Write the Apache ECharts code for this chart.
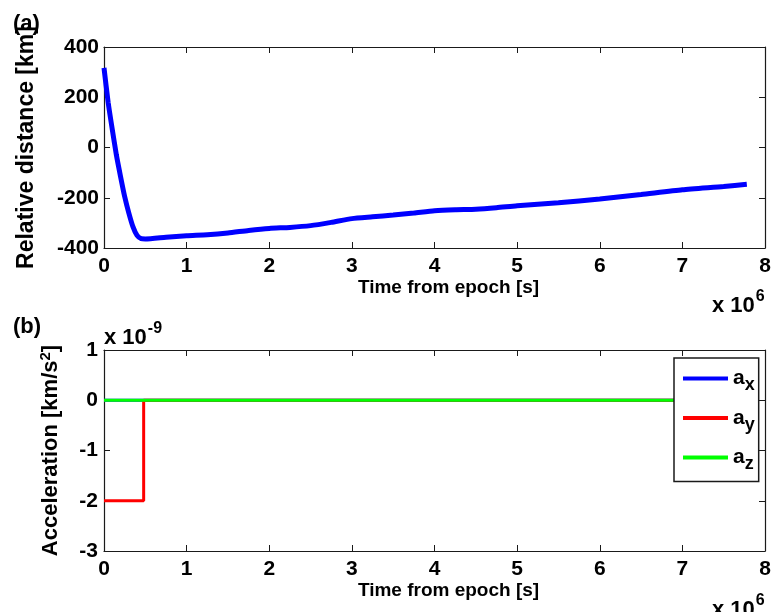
<!DOCTYPE html>
<html>
<head>
<meta charset="utf-8">
<script src="https://cdn.jsdelivr.net/npm/echarts@6/dist/echarts.min.js"></script>
<style>
  html, body { margin: 0; padding: 0; background: #fff; }
  #main { width: 771px; height: 612px; }
</style>
</head>
<body>
<div id="main"></div>
<script>
// time in units of 1e6 s (axis shows "x 10^6")
const timeA = [0, 0.05, 0.1, 0.15, 0.2, 0.25, 0.3, 0.35, 0.4, 0.45, 0.5, 0.75, 1, 1.25, 1.5, 1.75, 2, 2.25, 2.5, 2.75, 3, 3.25, 3.5, 3.75, 4, 4.25, 4.5, 4.75, 5, 5.5, 6, 6.5, 7, 7.5, 7.78]
const distance = [317, 180, 72, -30, -115, -195, -260, -315, -350, -363, -364, -357, -351, -347, -340, -330, -322, -318, -311, -298, -283, -276, -269, -261, -252, -248, -246, -240, -232, -220, -205, -187, -168, -155, -146]

// acceleration in units of 1e-9 km/s^2
const timeB = [0, 0.48, 0.48, 7.78]
const accX = [0, 0, 0, 0]
const accY = [-2, -2, 0, 0]
const accZ = [0, 0, 0, 0]

const font = 'Liberation Sans, Arial, Helvetica, sans-serif'
const ink = '#1a1a1a'

const zip = (xs, ys) => xs.map((x, i) => [x, ys[i]])

const chart = echarts.init(document.getElementById('main'), null, { renderer: 'canvas' })

const tickStyle = { inside: true, length: 6, lineStyle: { color: ink, width: 1 } }
const lineAxis = { show: true, onZero: false, lineStyle: { color: ink, width: 1.2 } }
const labelStyle = { color: '#000', fontFamily: font, fontWeight: 'bold', fontSize: 21 }
const nameStyle = { color: '#000', fontFamily: font, fontWeight: 'bold', fontSize: 19, padding: [0, 0, 0, 28] }

const xAxisFor = (gridIndex) => [
  {
    gridIndex, type: 'value', min: 0, max: 8, interval: 1, position: 'bottom',
    name: 'Time from epoch [s]', nameLocation: 'middle', nameGap: 30, nameTextStyle: nameStyle,
    axisLine: lineAxis, axisTick: tickStyle, splitLine: { show: false },
    axisLabel: Object.assign({ margin: 8, formatter: (v) => String(v) }, labelStyle),
  },
  {
    gridIndex, type: 'value', min: 0, max: 8, interval: 1, position: 'top',
    axisLine: lineAxis, axisTick: tickStyle, axisLabel: { show: false }, splitLine: { show: false },
  },
]

// "x 10^n" exponent labels
const supText = (txt, left, top) => ({
  type: 'text', left, top,
  style: {
    text: txt, fill: '#000',
    rich: {
      b: { font: 'bold 22px ' + font, padding: [10, 0, 0, 0] },
      s: { font: 'bold 16px ' + font, padding: [0, 0, 8, 1] },
    },
  },
})

const option = {
  animation: false,
  backgroundColor: '#fff',
  grid: [
    { left: 104, right: 6, top: 47, height: 201, outerBoundsMode: 'none' },
    { left: 104, right: 6, top: 350, height: 201, outerBoundsMode: 'none' },
  ],
  xAxis: [...xAxisFor(0), ...xAxisFor(1)],
  yAxis: [
    {
      gridIndex: 0, type: 'value', min: -400, max: 400, interval: 200, position: 'left',
      name: 'Relative distance [km]', nameLocation: 'middle', nameGap: 66, nameRotate: 90,
      nameTextStyle: { color: '#000', fontFamily: font, fontWeight: 'bold', fontSize: 23 },
      axisLine: lineAxis, axisTick: tickStyle, splitLine: { show: false },
      axisLabel: Object.assign({ margin: 5 }, labelStyle),
    },
    {
      gridIndex: 0, type: 'value', min: -400, max: 400, interval: 200, position: 'right',
      axisLine: lineAxis, axisTick: tickStyle,
      axisLabel: { show: false }, splitLine: { show: false },
    },
    {
      gridIndex: 1, type: 'value', min: -3, max: 1, interval: 1, position: 'left',
      name: 'Acceleration [km/s{sup|2}]', nameLocation: 'middle', nameGap: 41, nameRotate: 90,
      nameTextStyle: {
        color: '#000', fontFamily: font, fontWeight: 'bold', fontSize: 22,
        rich: { sup: { fontFamily: font, fontWeight: 'bold', fontSize: 15, color: '#000', verticalAlign: 'top', padding: [0, 0, 10, 0] } },
      },
      axisLine: lineAxis, axisTick: tickStyle, splitLine: { show: false },
      axisLabel: Object.assign({ margin: 6 }, labelStyle),
    },
    {
      gridIndex: 1, type: 'value', min: -3, max: 1, interval: 1, position: 'right',
      axisLine: lineAxis, axisTick: tickStyle,
      axisLabel: { show: false }, splitLine: { show: false },
    },
  ],
  legend: {
    data: ['a_x', 'a_y', 'a_z'],
    orient: 'vertical',
    left: 674, top: 358,
    padding: [10, 4, 8, 9],
    itemGap: 13,
    itemWidth: 45,
    itemHeight: 4,
    icon: 'rect',
    backgroundColor: '#fff',
    borderColor: ink,
    borderWidth: 1.5,
    borderRadius: 0,
    formatter: (n) => 'a{sub|' + n.slice(2) + '}',
    textStyle: {
      color: '#000', fontFamily: font, fontWeight: 'bold', fontSize: 21,
      rich: { sub: { fontFamily: font, fontWeight: 'bold', fontSize: 18, color: '#000', padding: [14, 0, 0, 0] } },
    },
  },
  graphic: [
    { type: 'text', left: 13, top: 13, style: { text: '(a)', font: 'bold 22px ' + font, fill: '#000' } },
    { type: 'text', left: 13, top: 316, style: { text: '(b)', font: 'bold 22px ' + font, fill: '#000' } },
    supText('{b|x 10}{s|6}', 712, 289),
    supText('{b|x 10}{s|6}', 712, 593),
    supText('{b|x 10}{s|-9}', 104, 321),
  ],
  series: [
    {
      name: 'distance', type: 'line', xAxisIndex: 0, yAxisIndex: 0,
      data: zip(timeA, distance), smooth: 0.2, showSymbol: false,
      lineStyle: { color: '#0000ff', width: 5 }, itemStyle: { color: '#0000ff' },
    },
    {
      name: 'a_x', type: 'line', xAxisIndex: 2, yAxisIndex: 2,
      data: zip(timeB, accX), showSymbol: false,
      lineStyle: { color: '#0000ff', width: 3 }, itemStyle: { color: '#0000ff' },
    },
    {
      name: 'a_y', type: 'line', xAxisIndex: 2, yAxisIndex: 2,
      data: zip(timeB, accY), showSymbol: false,
      lineStyle: { color: '#ff0000', width: 3 }, itemStyle: { color: '#ff0000' },
    },
    {
      name: 'a_z', type: 'line', xAxisIndex: 2, yAxisIndex: 2,
      data: zip(timeB, accZ), showSymbol: false,
      lineStyle: { color: '#00ff00', width: 3 }, itemStyle: { color: '#00ff00' },
    },
  ],
}

chart.setOption(option)
</script>
</body>
</html>
